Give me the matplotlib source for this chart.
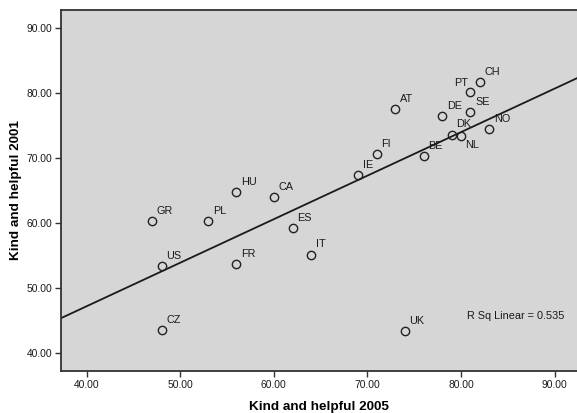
import matplotlib.pyplot as plt
import numpy as np

paises = ['GR', 'PL', 'US', 'FR', 'CZ', 'HU', 'CA', 'ES', 'IT', 'UK', 'AT', 'FI', 'IE',
          'BE', 'DE', 'DK', 'NL', 'SE', 'PT', 'CH', 'NO']
amable_2005 = [47, 53, 48, 56, 48, 56, 60, 62, 64, 74, 73, 71, 69,
               76, 78, 79, 80, 81, 81, 82, 83]
amable_2001 = [60.2, 60.2, 53.3, 53.7, 43.4, 64.8, 64.0, 59.2, 55.1, 43.3, 77.5, 70.6, 67.3,
               70.3, 76.4, 73.6, 73.4, 77.0, 80.2, 81.7, 74.5]
marcas_x = [40, 50, 60, 70, 80, 90]
marcas_y = [40, 50, 60, 70, 80, 90]

fig = plt.figure(figsize=(5.77, 4.13), dpi=100)
ax = fig.add_axes([0.1057, 0.1024, 0.8943, 0.8734])
ax.set_facecolor('#d6d6d6')

x = np.array(amable_2005, dtype=float)
y = np.array(amable_2001, dtype=float)
ax.plot(x, y, 'o', mfc='none', mec='#222222', ms=6.0, mew=1.0, zorder=3)

# etiquetas de cada pais (arriba a la derecha salvo PT y NL)
for nombre, xi, yi in zip(paises, x, y):
    if nombre == 'PT':
        off, ha = (-1.5, 6.5), 'right'
    elif nombre == 'NL':
        off, ha = (3.0, -6.3), 'left'
    else:
        off, ha = (3.4, 7.3), 'left'
    ax.annotate(nombre, (xi, yi), xytext=off, textcoords='offset points',
                ha=ha, va='center', fontsize=7.8, family='Liberation Sans', color='#1a1a1a')

# recta de regresion
m, b = np.polyfit(x, y, 1)
xs = np.array([37.25, 92.4])
ax.plot(xs, m * xs + b, color='#1a1a1a', lw=1.3, zorder=2)
ax.text(80.6, 45.65, 'R Sq Linear = %.3f' % 0.535, fontsize=7.8, family='Liberation Sans',
        va='center', ha='left', color='#1a1a1a')

ax.set_xlim(37.25, 92.4)
ax.set_ylim(37.2, 92.8)
ax.set_xticks(marcas_x)
ax.set_yticks(marcas_y)
ax.set_xticklabels(['%.2f' % v for v in marcas_x], fontsize=7.4, family='Liberation Sans', color='#1a1a1a')
ax.set_yticklabels(['%.2f' % v for v in marcas_y], fontsize=7.4, family='Liberation Sans', color='#1a1a1a')
ax.tick_params(direction='out', length=4.5, width=1.0, color='#333333', pad=2)

for lado in ['left', 'bottom', 'top']:
    ax.spines[lado].set_color('#333333')
    ax.spines[lado].set_linewidth(1.3)
ax.spines['right'].set_visible(False)

ax.set_xlabel('Kind and helpful 2005', fontsize=9.7, fontweight='bold', family='Liberation Sans', labelpad=8)
ax.set_ylabel('Kind and helpful 2001', fontsize=9.7, fontweight='bold', family='Liberation Sans', labelpad=3)

plt.savefig('out.png', dpi=100)
